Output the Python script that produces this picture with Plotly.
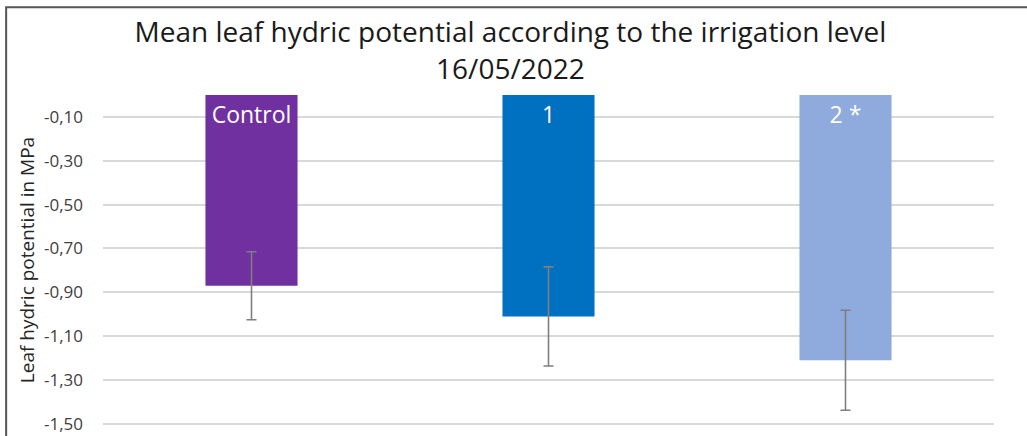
import plotly.graph_objects as go

# Données
categories = ["Control", "1", "2"]
bar_labels = ["Control", "1", "2 *"]
mean_potential = [-0.87, -1.01, -1.21]
std_error = [0.155, 0.226, 0.228]
bar_colors = ["#7030A0", "#0070C0", "#8FAADC"]
tick_values = [-0.1, -0.3, -0.5, -0.7, -0.9, -1.1, -1.3, -1.5]
tick_labels = ["-0,10", "-0,30", "-0,50", "-0,70", "-0,90", "-1,10", "-1,30", "-1,50"]

FONT = "Open Sans"

fig = go.Figure()
fig.add_trace(go.Bar(
    x=categories,
    y=mean_potential,
    marker=dict(color=bar_colors, line=dict(width=0)),
    error_y=dict(type="data", array=std_error, visible=True,
                 color="#7F7F7F", thickness=1.6, width=5),
    text=bar_labels,
    textposition="inside",
    insidetextanchor="start",
    constraintext="none",
    textfont=dict(family=FONT, size=23, color="white"),
    showlegend=False,
    hoverinfo="skip",
))

fig.update_layout(
    width=1027, height=436,
    margin=dict(l=103, r=33, t=95, b=11),
    paper_bgcolor="white",
    plot_bgcolor="white",
    bargap=0.69,
    title=dict(
        text="Mean leaf hydric potential according to the irrigation level<br>16/05/2022",
        x=0.497, xanchor="center", y=0.903, yanchor="top",
        font=dict(family=FONT, size=28, color="#1a1a1a"),
    ),
    xaxis=dict(showticklabels=False, showgrid=False, zeroline=False, showline=False),
    yaxis=dict(
        range=[-1.505, 0],
        tickvals=tick_values,
        ticktext=tick_labels,
        showgrid=True, gridcolor="#D9D9D9", gridwidth=1.5,
        zeroline=False, showline=False,
        automargin=False,
        tickfont=dict(family=FONT, size=17, color="#404040"),
        ticklabelstandoff=19,
        ticklabeloverflow="allow",
        title=dict(text="Leaf hydric potential in MPa", standoff=4,
                   font=dict(family=FONT, size=19, color="#262626")),
    ),
    shapes=[dict(type="rect", xref="paper", yref="paper",
                 x0=-0.1087, x1=1.2, y0=-0.3, y1=1.266,
                 line=dict(color="#555555", width=2), layer="above")],
)

# la page ne doit pas décaler la figure
fig.write_html("out.html", config={"displayModeBar": False},
               post_script="document.body.style.margin='0';")
